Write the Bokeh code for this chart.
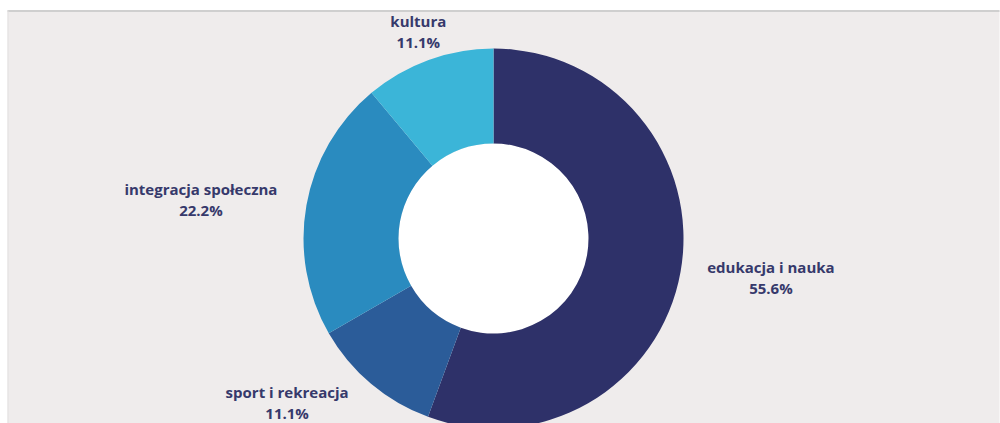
import math
from bokeh.plotting import figure
from bokeh.models import Range1d, ColumnDataSource
from bokeh.core.properties import value
from bokeh.embed import file_html
from bokeh.resources import INLINE

categories = ["edukacja i nauka", "sport i rekreacja", "integracja społeczna", "kultura"]
shares = [55.6, 11.1, 22.2, 11.1]
colors = ["#2e3169", "#2b5c99", "#2a8bbf", "#3bb5d8"]
pct_labels = ["55.6%", "11.1%", "22.2%", "11.1%"]

W, H = 1000, 423
cx, cy = 493, H - 238
r_out, r_in, r_lab = 190, 95, 220
char_w = 7.6       # approx. px per character of the label font
half_gap = 10.5    # half the distance between the two label lines
edge_pad = 10.5    # keep label lines inside the canvas

p = figure(width=W, height=H, x_range=Range1d(0, W), y_range=Range1d(0, H),
           output_backend="svg", toolbar_location=None, min_border=0)
p.axis.visible = False
p.grid.visible = False
p.outline_line_color = None
p.background_fill_color = "white"
p.border_fill_color = "white"

# panel
p.quad(left=7, right=999, bottom=0, top=H - 10, fill_color="#efecec", line_color=None)
p.segment(x0=7, y0=H - 10.5, x1=999, y1=H - 10.5, line_color="#cfcfcf", line_width=2)
p.segment(x0=7.5, y0=0, x1=7.5, y1=H - 10, line_color="#e2e0e0", line_width=1)

total = sum(shares)
starts, ends, lx, ly1, ly2 = [], [], [], [], []
acc = 0.0
for s, name in zip(shares, categories):
    a0 = math.pi / 2 - 2 * math.pi * acc / total
    a1 = math.pi / 2 - 2 * math.pi * (acc + s) / total
    starts.append(a0)
    ends.append(a1)
    mid = (a0 + a1) / 2
    ax = cx + r_lab * math.cos(mid)
    ay = cy + r_lab * math.sin(mid)
    ay = max(ay, half_gap + edge_pad)
    ay = min(ay, H - half_gap - edge_pad + 2)
    c = math.cos(mid)
    half = len(name) * char_w / 2
    if abs(c) < 0.5:
        bx = ax
    elif c > 0:
        bx = ax + half
    else:
        bx = ax - half
    lx.append(bx)
    ly1.append(ay + half_gap)
    ly2.append(ay - half_gap)
    acc += s

src = ColumnDataSource(dict(start=starts, end=ends, color=colors, name=categories,
                            pct=pct_labels, lx=lx, ly1=ly1, ly2=ly2))

p.circle(x=[cx], y=[cy], radius=r_in, fill_color="white", line_color=None)
p.annular_wedge(x=cx, y=cy, inner_radius=r_in, outer_radius=r_out,
                start_angle="start", end_angle="end", direction="clock",
                fill_color="color", line_color=None, source=src)

for col in ("name", "pct"):
    p.text(x="lx", y="ly1" if col == "name" else "ly2", text=col, source=src,
           text_align="center", text_baseline="middle",
           text_font=value("Open Sans"), text_font_style="bold",
           text_font_size="15px", text_color="#36396b")

open("out.html", "w").write(file_html(p, INLINE))
